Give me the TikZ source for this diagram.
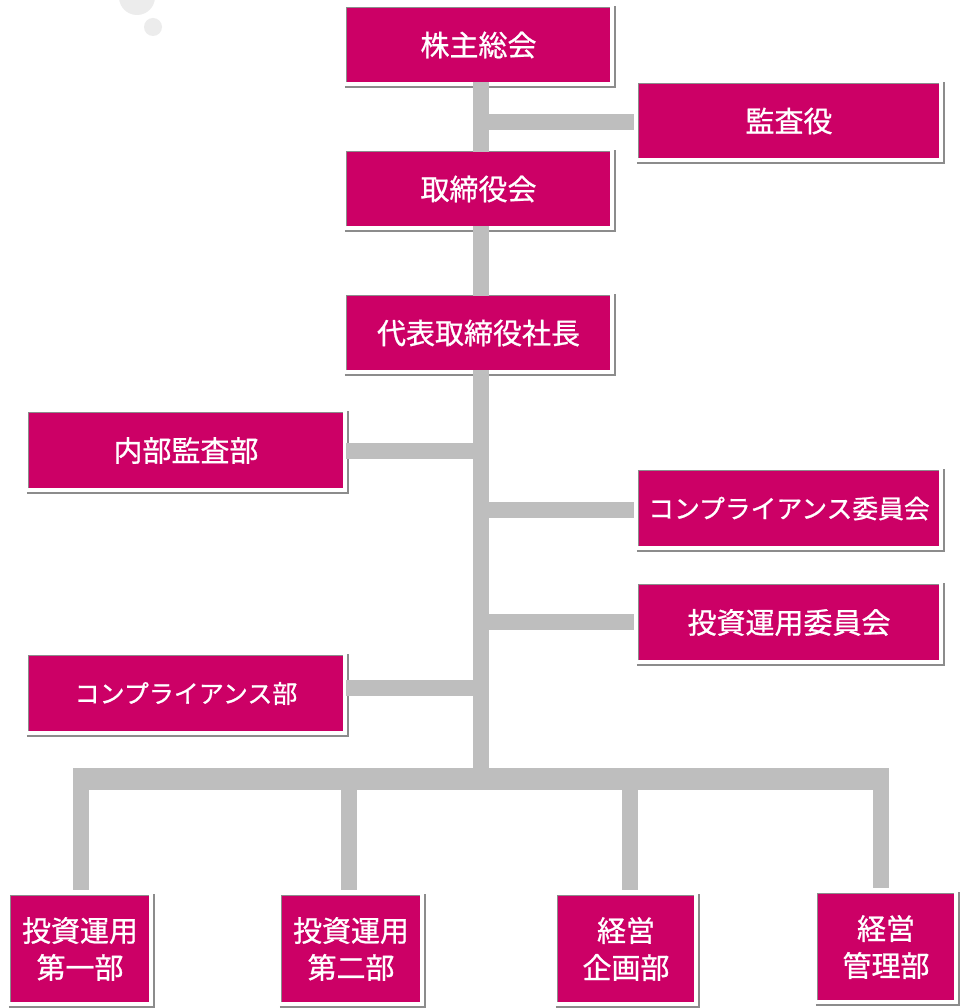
\documentclass[tikz,border=0pt]{standalone}
\usepackage{fontspec}
\newfontfamily\jp[FakeBold=0.8]{Noto Sans CJK JP}
\definecolor{mag}{RGB}{204,0,102}
\definecolor{bargray}{RGB}{190,190,190}
\definecolor{framegray}{RGB}{140,140,140}
\definecolor{bubble}{RGB}{236,236,236}
\tikzset{
  obox/.style={fill=mag, text=white, inner sep=0pt, align=center,
    font=\jp\fontsize{29}{37}\selectfont},
  frameline/.style={draw=framegray, line width=1.6pt},
  topline/.style={draw=framegray, line width=1pt},
  bar/.style={draw=bargray, line width=16pt},
  busbar/.style={draw=bargray, line width=22pt},
}
\newcommand\obox[6]{%
  \node[obox, minimum width={(#4-#2)*1pt}, minimum height={(#5-#3)*1pt}]
    (#1) at ({(#2+#4)/2},{(#3+#5)/2}) {\raisebox{-2.5pt}{#6}};
  \draw[frameline] ([xshift=-2pt,yshift=-5pt]#1.south west) -- ([xshift=5pt,yshift=-5pt]#1.south east) -- ([xshift=5pt,yshift=2pt]#1.north east);
  \draw[topline] (#1.south west) -- (#1.north west) -- (#1.north east);
}
\newcommand\twolines[2]{\raisebox{-3pt}{\parbox{130pt}{\centering #1\\#2}}}
\begin{document}
\begin{tikzpicture}[x=1pt,y=-1pt]
\useasboundingbox[fill=white] (0,0) rectangle (961,1008);
% faint decorative bubbles
\fill[bubble] (137,-3) circle (18);
\fill[bubble] (153,27) circle (9);

% boxes
\obox{agm}{347}{8}{610}{82}{株主総会}
\obox{kansa}{639}{84}{939}{158}{監査役}
\obox{board}{347}{152}{610}{226}{取締役会}
\obox{ceo}{347}{296}{610}{370}{代表取締役社長}
\obox{naibu}{29}{413}{343}{488}{内部監査部}
\obox{ccom}{639}{471}{939}{546}{\fontsize{25.8}{30}\selectfont コンプライアンス委員会}
\obox{icom}{639}{585}{939}{660}{投資運用委員会}
\obox{cdep}{29}{656}{343}{731}{\fontsize{25}{30}\selectfont コンプライアンス部}
\obox{inv1}{11}{896}{149}{1002}{\twolines{投資運用}{第一部}}
\obox{inv2}{282}{896}{420}{1002}{\twolines{投資運用}{第二部}}
\obox{plan}{558}{896}{694}{1002}{\twolines{経営}{企画部}}
\obox{mgmt}{818}{894}{954}{1000}{\twolines{経営}{管理部}}

% coordinates
\coordinate (tk1) at (481,122);
\coordinate (tk2) at (481,451);
\coordinate (tk3) at (481,510);
\coordinate (tk4) at (481,622);
\coordinate (tk5) at (481,688);
\coordinate (busL) at (73,779);
\coordinate (busR) at (889,779);
\coordinate (bus) at (481,790);
\coordinate (d1) at (81,779);
\coordinate (d2) at (349,779);
\coordinate (d3) at (630,779);
\coordinate (d4) at (881,779);

% connectors
\draw[bar] (agm.south -| tk1) -- (board.north -| tk1);
\draw[bar] (tk1) -- ([xshift=-5pt]kansa.west |- tk1);
\draw[bar] (board.south -| tk1) -- (ceo.north -| tk1);
\draw[bar] (ceo.south -| tk1) -- (bus);
\draw[bar] ([xshift=3pt]naibu.east |- tk2) -- ([xshift=-8pt]tk2);
\draw[bar] ([xshift=8pt]tk3) -- ([xshift=-5pt]ccom.west |- tk3);
\draw[bar] ([xshift=8pt]tk4) -- ([xshift=-5pt]icom.west |- tk4);
\draw[bar] ([xshift=3pt]cdep.east |- tk5) -- ([xshift=-8pt]tk5);
\draw[busbar] (busL) -- (busR);
\draw[bar] (d1) -- ([yshift=6pt]d1 |- inv1.north);
\draw[bar] (d2) -- ([yshift=6pt]d2 |- inv2.north);
\draw[bar] (d3) -- ([yshift=6pt]d3 |- plan.north);
\draw[bar] (d4) -- ([yshift=6pt]d4 |- mgmt.north);
\end{tikzpicture}
\end{document}
